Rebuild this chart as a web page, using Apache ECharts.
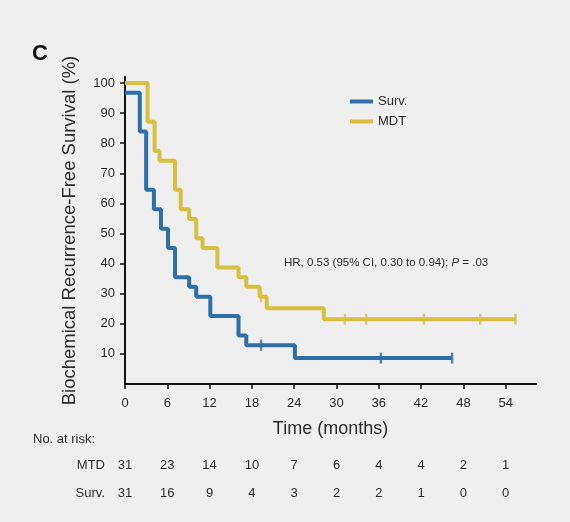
<!DOCTYPE html>
<html>
<head>
<meta charset="utf-8">
<script src="https://cdn.jsdelivr.net/npm/echarts@6/dist/echarts.min.js"></script>
<style>
  html, body { margin: 0; padding: 0; background: #efefef; }
  #chart { width: 570px; height: 522px; }
</style>
</head>
<body>
<div id="chart"></div>
<script>
// ====== Data ======
const xTicks = [0, 6, 12, 18, 24, 30, 36, 42, 48, 54];
const yTicks = [10, 20, 30, 40, 50, 60, 70, 80, 90, 100];

// Kaplan-Meier steps (time in months, survival % after that time)
const survTimes = [0, 2.1, 3.0, 4.1, 5.1, 6.1, 7.1, 9.1, 10.1, 12.1, 16.1, 17.2, 24.1, 46.4];
const survValues = [96.8, 83.9, 64.5, 58.1, 51.6, 45.2, 35.5, 32.3, 29.0, 22.6, 16.1, 12.9, 8.6, 8.6];
const survCensorTimes = [19.3, 36.3, 46.4];
const survCensorValues = [12.9, 8.6, 8.6];

const mdtTimes = [0, 3.2, 4.2, 4.9, 7.1, 7.9, 9.1, 10.1, 11.0, 13.1, 16.1, 17.2, 19.1, 20.1, 28.2, 55.4];
const mdtValues = [100, 87.1, 77.4, 74.2, 64.5, 58.1, 54.8, 48.4, 45.2, 38.7, 35.5, 32.3, 29.0, 25.2, 21.5, 21.5];
const mdtCensorTimes = [19.3, 31.2, 34.2, 42.4, 50.4, 55.4];
const mdtCensorValues = [29.0, 21.5, 21.5, 21.5, 21.5, 21.5];

// Numbers at risk
const riskTimes = [0, 6, 12, 18, 24, 30, 36, 42, 48, 54];
const riskMdt = [31, 23, 14, 10, 7, 6, 4, 4, 2, 1];
const riskSurv = [31, 16, 9, 4, 3, 2, 2, 1, 0, 0];

const BLUE = '#2f6fa9';
const GOLD = '#d9bf40';
const FONT = "'Liberation Sans', Arial, sans-serif";
const TEXT = '#2b2b2b';

const zip = (a, b) => a.map((v, i) => [v, b[i]]);

const chart = echarts.init(document.getElementById('chart'));

const option = {
  backgroundColor: '#efefef',
  animation: false,
  textStyle: { fontFamily: FONT },
  grid: { left: 125, right: 34, top: 77, bottom: 138 },
  legend: {
    data: ['Surv.', 'MDT'],
    orient: 'vertical',
    left: 345,
    top: 90,
    itemWidth: 23,
    itemHeight: 4,
    itemGap: 7,
    icon: 'rect',
    textStyle: { fontSize: 13, color: TEXT, fontFamily: FONT }
  },
  xAxis: {
    type: 'value',
    min: 0,
    max: 58.3,
    name: 'Time (months)',
    nameLocation: 'middle',
    nameGap: 36,
    nameTextStyle: { fontSize: 18, color: TEXT, fontFamily: "'Liberation Sans Narrow', " + FONT },
    axisLine: { show: true, lineStyle: { color: '#111', width: 2 } },
    axisTick: { show: true, length: 5, customValues: xTicks, lineStyle: { color: '#111', width: 1.5 } },
    axisLabel: { customValues: xTicks, fontSize: 13, color: TEXT, margin: 13 },
    splitLine: { show: false }
  },
  yAxis: {
    type: 'value',
    min: 0,
    max: 102,
    name: 'Biochemical Recurrence-Free Survival (%)',
    nameLocation: 'middle',
    nameGap: 46,
    nameTextStyle: { fontSize: 18.5, color: TEXT, fontFamily: FONT },
    axisLine: { show: true, lineStyle: { color: '#111', width: 2 } },
    axisTick: { show: true, length: 5, customValues: yTicks, lineStyle: { color: '#111', width: 1.5 } },
    axisLabel: { customValues: yTicks, fontSize: 13, color: TEXT, margin: 10 },
    splitLine: { show: false }
  },
  series: [
    {
      name: 'MDT',
      type: 'line',
      step: 'end',
      data: zip(mdtTimes, mdtValues),
      showSymbol: false,
      color: GOLD,
      lineStyle: { width: 4, color: GOLD },
      z: 2
    },
    {
      name: 'MDT',
      type: 'scatter',
      data: zip(mdtCensorTimes, mdtCensorValues),
      symbol: 'rect',
      symbolSize: [2.5, 11],
      itemStyle: { color: GOLD },
      z: 2
    },
    {
      name: 'Surv.',
      type: 'line',
      step: 'end',
      data: zip(survTimes, survValues),
      showSymbol: false,
      color: BLUE,
      lineStyle: { width: 4, color: BLUE },
      z: 3
    },
    {
      name: 'Surv.',
      type: 'scatter',
      data: zip(survCensorTimes, survCensorValues),
      symbol: 'rect',
      symbolSize: [2.5, 11],
      itemStyle: { color: BLUE },
      z: 3
    }
  ]
};

chart.setOption(option);

// ====== Text: panel letter, HR note, at-risk table ======
const graphics = [
  { type: 'text', left: 32, top: 43, style: { text: 'C', font: 'bold 22px ' + FONT, fill: '#111' } },
  {
    type: 'text', left: 284, top: 257,
    style: {
      text: 'HR, 0.53 (95% CI, 0.30 to 0.94); {i|P} = .03',
      font: '11.5px ' + FONT, fill: TEXT,
      rich: { i: { fontStyle: 'italic', fontSize: 11.5, fontFamily: FONT, fill: TEXT } }
    }
  },
  { type: 'text', left: 33, top: 433, style: { text: 'No. at risk:', font: '13px ' + FONT, fill: TEXT } },
  { type: 'text', x: 105, y: 465, style: { text: 'MTD', font: '13px ' + FONT, fill: TEXT, align: 'right', verticalAlign: 'middle' } },
  { type: 'text', x: 105, y: 493, style: { text: 'Surv.', font: '13px ' + FONT, fill: TEXT, align: 'right', verticalAlign: 'middle' } }
];

riskTimes.forEach((t, i) => {
  const px = chart.convertToPixel({ xAxisIndex: 0 }, t);
  graphics.push({ type: 'text', x: px, y: 465, style: { text: String(riskMdt[i]), font: '13px ' + FONT, fill: TEXT, align: 'center', verticalAlign: 'middle' } });
  graphics.push({ type: 'text', x: px, y: 493, style: { text: String(riskSurv[i]), font: '13px ' + FONT, fill: TEXT, align: 'center', verticalAlign: 'middle' } });
});

chart.setOption({ graphic: graphics });
</script>
</body>
</html>
